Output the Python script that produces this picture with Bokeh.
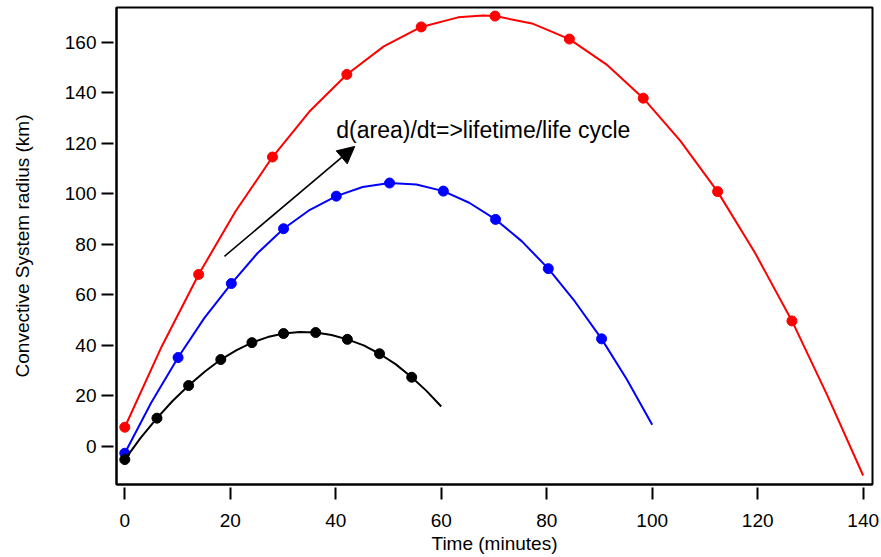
from bokeh.plotting import figure
from bokeh.models import Range1d, FixedTicker, Arrow, NormalHead, Label
from bokeh.embed import file_html
from bokeh.resources import INLINE

# Measured samples: time (minutes) and convective system radius (km)
red_t = [0, 14, 28, 42.1, 56.2, 70.2, 84.3, 98.3, 112.4, 126.5]
red_r = [7.5, 68, 114.5, 147.2, 166, 170.3, 161.2, 137.8, 100.8, 49.6]

blue_t = [0, 10.1, 20.2, 30.1, 40.1, 50.2, 60.4, 70.3, 80.3, 90.4]
blue_r = [-2.8, 35.1, 64.4, 86.1, 99.0, 104.2, 101.0, 89.8, 70.3, 42.5]

black_t = [0, 6.1, 12.1, 18.2, 24.1, 30.1, 36.2, 42.2, 48.3, 54.4]
black_r = [-5.3, 11.1, 24.0, 34.3, 41.0, 44.6, 45.0, 42.3, 36.6, 27.3]

# Smooth life-cycle curves drawn through each series
red_curve_t = [0, 7, 14, 21, 28, 35, 42.1, 49.1, 56.2, 63.2, 67.9, 70.2, 77.2, 84.3,
               91.3, 98.3, 105.3, 112.4, 119.4, 126.5, 133.2, 140]
red_curve_r = [7.5, 39.5, 68, 93, 114.5, 132.5, 147.2, 158.3, 166, 169.8, 170.5, 170.3,
               167.4, 161.2, 151.2, 137.8, 121, 100.8, 76.9, 49.6, 20.1, -11.6]

blue_curve_t = [0, 5, 10.1, 15.1, 20.2, 25.1, 30.1, 35.1, 40.1, 45.1, 50.2,
                55.3, 60.4, 65.3, 70.3, 75.3, 80.3, 85.3, 90.4, 95.2, 100]
blue_curve_r = [-2.8, 17.2, 35.1, 50.8, 64.4, 76.3, 86.1, 93.6, 99.0, 102.6, 104.2,
                103.6, 101.0, 96.4, 89.8, 81.1, 70.3, 57.4, 42.5, 26.4, 8.5]

black_curve_t = [0, 3, 6.1, 9.1, 12.1, 15.2, 18.2, 21.2, 24.1, 27.1, 30.1, 33.2,
                 36.2, 39.2, 42.2, 45.3, 48.3, 51.4, 54.4, 57.2, 60]
black_curve_r = [-5.3, 3.3, 11.1, 18.0, 24.0, 29.6, 34.3, 38.0, 41.0, 43.2, 44.6, 45.2,
                 45.0, 44.0, 42.3, 39.9, 36.6, 32.4, 27.3, 21.9, 15.7]

x_ticks = [0, 20, 40, 60, 80, 100, 120, 140]
y_ticks = [0, 20, 40, 60, 80, 100, 120, 140, 160]

FONT = "Liberation Sans"

p = figure(width=881, height=557, output_backend="svg", toolbar_location=None,
           x_range=Range1d(-1.574, 141.77), y_range=Range1d(-15.17, 173.7),
           min_border_left=116, min_border_right=9, min_border_top=7,
           min_border_bottom=73)
p.grid.visible = False
p.background_fill_color = "white"
p.border_fill_color = "white"
p.outline_line_color = "black"
p.outline_line_width = 2
p.outline_line_alpha = 1.0

for ax, ticks in ((p.xaxis[0], x_ticks), (p.yaxis[0], y_ticks)):
    ax.ticker = FixedTicker(ticks=ticks)
    ax.minor_tick_line_color = None
    ax.axis_line_width = 2
    ax.axis_line_color = "black"
    ax.major_tick_line_width = 2
    ax.major_tick_line_color = "black"
    ax.major_tick_in = -3
    ax.major_tick_out = 15
    ax.major_label_text_font = FONT
    ax.major_label_text_font_size = "19px"
    ax.major_label_text_color = "black"
    ax.axis_label_text_font = FONT
    ax.axis_label_text_font_size = "19px"
    ax.axis_label_text_font_style = "normal"
    ax.axis_label_text_color = "black"

p.xaxis.axis_label = "Time (minutes)"
p.xaxis.major_label_standoff = 14
p.xaxis.axis_label_standoff = 3
p.yaxis.axis_label = "Convective System radius (km)"
p.yaxis.major_label_standoff = 5
p.yaxis.axis_label_standoff = 29

series = [
    ("#ff0000", red_t, red_r, red_curve_t, red_curve_r),
    ("#0000ff", blue_t, blue_r, blue_curve_t, blue_curve_r),
    ("#000000", black_t, black_r, black_curve_t, black_curve_r),
]
for color, t, r, ct, cr in series:
    p.line(ct, cr, line_color=color, line_width=2, line_join="round")
    p.scatter(t, r, size=10, fill_color=color, line_color=color)

p.add_layout(Arrow(end=NormalHead(size=17, fill_color="black", fill_alpha=1.0,
                                  line_color="black", line_width=1),
                   x_start=18.9, y_start=75.2, x_end=43.6, y_end=118.7,
                   line_color="black", line_width=1.6))

p.add_layout(Label(x=40.1, y=125.3, text="d(area)/dt=>lifetime/life cycle",
                   text_font=FONT, text_font_size="23px", text_color="black",
                   text_baseline="alphabetic", text_align="left"))

open("out.html", "w").write(file_html(p, INLINE))
